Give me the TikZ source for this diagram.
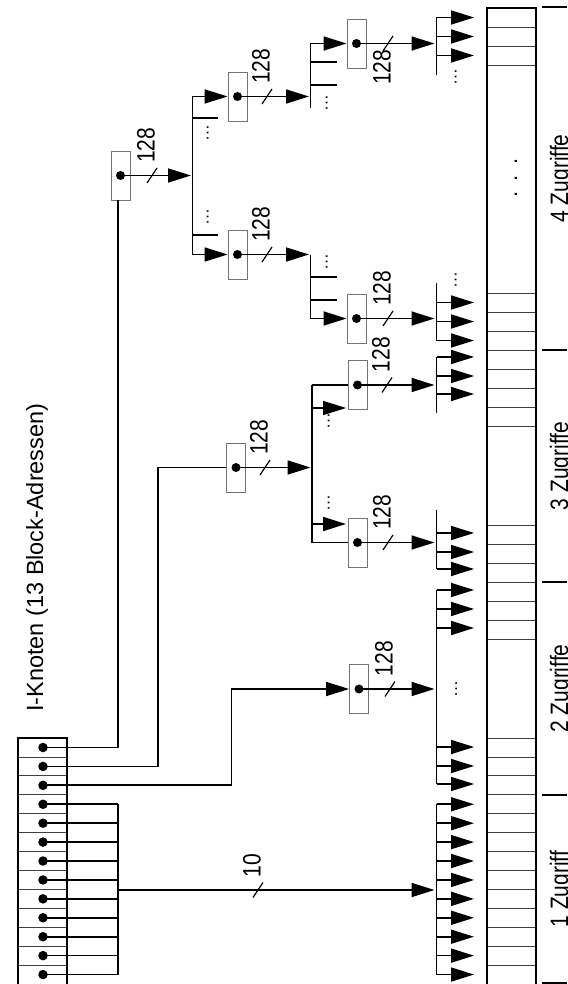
\documentclass[tikz,border=0pt]{standalone}
\usepackage{fontspec}
\setmainfont{Liberation Sans}
\usetikzlibrary{arrows.meta}
\newcommand\tallnum[1]{\scalebox{1}[1.2]{#1}}
\newcommand\mkslash[4]{%
  \draw[sl] ({#1-5},{#2+7.5}) -- ({#1+5},{#2-7.5});
  \node[lbl] (#3) at ({#1+2.5},{#2-12.5}) {\tallnum{#4}};}
\begin{document}
\begin{tikzpicture}[x=1pt,y=-1pt,
  ln/.style={line width=1.7pt},
  arr/.style={line width=1.7pt, -{Triangle[length=23pt,width=14pt]}},
  blk/.style={draw=black!55, line width=0.9pt, minimum width=19pt, minimum height=49pt, inner sep=0pt},
  dotc/.style={fill=black, circle, inner sep=0pt, minimum size=9.5pt},
  lbl/.style={rotate=90, anchor=base west, inner sep=0pt, font=\fontsize{21}{21}\selectfont},
  zlbl/.style={rotate=90, anchor=base, inner sep=0pt, font=\fontsize{21}{21}\selectfont},
  ell/.style={rotate=90, anchor=base, inner sep=0pt, font=\fontsize{17}{17}\selectfont},
  sl/.style={line width=1.2pt},
  gridl/.style={line width=0.8pt, draw=black!75},
  frame/.style={line width=1.2pt},
]
\useasboundingbox (0,0) rectangle (567,984);
\clip (0,0) rectangle (567,984);

% ---------- I-node ----------
\node[lbl, font=\fontsize{23.5}{23.5}\selectfont] (title) at (43,712) {I-Knoten (13 Block-Adressen)};
\foreach \k in {1,...,12} \draw[gridl] (18,{738+18.92*\k}) -- (67,{738+18.92*\k});
\draw[frame] (18,738) rectangle (67,992);
\foreach \k in {0,...,12} \node[dotc] (i\k) at (43,{747.5+18.92*\k}) {};

% ---------- data blocks ----------
\foreach \yy in {27,46,65,293,312,331,350,369,388,407,426,525,544,563,582,601,620,639}
  \draw[gridl] (487,\yy) -- (536,\yy);
\foreach \k in {0,...,12} \draw[gridl] (487,{738+18.92*\k}) -- (536,{738+18.92*\k});
\draw[frame] (487,8) rectangle (536,992);
\node[rotate=90, anchor=base, inner sep=0pt, font=\fontsize{22}{22}\selectfont] (bigdots) at (517,178) {.\hspace{10pt}.\hspace{10pt}.};

% separators and labels
\foreach \yy in {7,350,582,795,983} \draw[ln] (542,\yy) -- (567,\yy);
\node[zlbl] (z4) at (568,178.5) {\tallnum{4 Zugriffe}};
\node[zlbl] (z3) at (568,466) {\tallnum{3 Zugriffe}};
\node[zlbl] (z2) at (568,688.5) {\tallnum{2 Zugriffe}};
\node[zlbl] (z1) at (568,889) {\tallnum{1 Zugriff}};

% ---------- index blocks ----------
\node[blk] (T)  at (120.5,175.5) {};
\node[blk] (D1) at (237.5,96.5) {};
\node[blk] (D2) at (237.5,254.5) {};
\node[blk] (S1) at (356.5,43.5) {};
\node[blk] (S2) at (356.5,318.5) {};
\node[blk] (D3) at (236,467.5) {};
\node[blk] (S3) at (357.5,385) {};
\node[blk] (S4) at (357.5,542.5) {};
\node[blk] (S5) at (359,689) {};
\foreach \b in {T,D1,D2,S1,S2,D3,S3,S4,S5} \fill (\b.center) circle (4.5pt);

% ---------- direct blocks (10) ----------
\foreach \k in {3,...,12} \draw[ln] (i\k.center) -- (118,{747.5+18.92*\k});
\coordinate (dbt) at (118,804.3);
\coordinate (dbb) at (118,974.5);
\draw[ln] (dbt) -- (dbb);
\coordinate (d10) at (118,890);
\coordinate (l1t) at (436.5,804.3);
\coordinate (l1b) at (436.5,974.5);
\draw[arr] (d10) -- (434.5,890);
\mkslash{258}{890}{n10}{10}
\draw[ln] (l1t) -- (l1b);
\foreach \k in {3,...,12} \draw[arr] (436.5,{747.5+18.92*\k}) -- (474,{747.5+18.92*\k});

% ---------- single indirect ----------
\coordinate (c2) at (231.5,689);
\draw[arr] (i2.center) -| (c2) -- (S5.west);
\draw[arr] (S5.center) -- (434.5,689);
\mkslash{390}{689}{n5}{128}
\draw[ln] (436.5,590) -- (436.5,784);
\foreach \yy in {590,609,628,747,766,784} \draw[arr] (436.5,\yy) -- (474,\yy);
\node[ell] (e2) at (457,689) {…};

% ---------- double indirect ----------
\coordinate (c1) at (158,467.5);
\draw[ln] (i1.center) -| (c1) -- (D3.west);
\draw[arr] (D3.center) -- (310.5,467.5);
\mkslash{265}{467.5}{n3}{128}
\coordinate (b3t) at (312,385);
\coordinate (b3b) at (312,542.5);
\draw[ln] (b3t) -- (b3b);
\draw[ln] (b3t) -- (S3.west);
\draw[ln] (b3b) -- (S4.west);
\draw[arr] (312,408) -- (346,408);
\draw[arr] (312,524) -- (346,524);
\node[ell] (e3a) at (329.5,421) {…};
\node[ell] (e3b) at (329.5,503) {…};
% S3 leaves
\draw[arr] (S3.center) -- (434.5,385);
\mkslash{387}{385}{n6}{128}
\draw[ln] (436.5,357) -- (436.5,413);
\foreach \yy in {357,376,394} \draw[arr] (436.5,\yy) -- (474,\yy);
% S4 leaves
\draw[arr] (S4.center) -- (434.5,542.5);
\mkslash{388}{542.5}{n7}{128}
\draw[ln] (436.5,510) -- (436.5,569);
\foreach \yy in {533,552,569} \draw[arr] (436.5,\yy) -- (474,\yy);

% ---------- triple indirect ----------
\draw[ln] (i0.center) -| ([xshift=-2.5pt]T.south);
\draw[arr] (T.center) -- (191,175.5);
\mkslash{152}{175.5}{n1}{128}
\coordinate (b2t) at (192.5,96.5);
\coordinate (b2b) at (192.5,254.5);
\draw[ln] (b2t) -- (b2b);
\draw[arr] (b2t) -- (D1.west);
\draw[arr] (b2b) -- (D2.west);
\draw[ln] (192.5,118) -- (218,118);
\draw[ln] (192.5,235) -- (218,235);
\node[ell] (e1a) at (208.5,133) {…};
\node[ell] (e1b) at (208.5,217) {…};
% D1
\draw[arr] (D1.center) -- (309,96.5);
\mkslash{267}{96.5}{n2}{128}
\coordinate (b4t) at (310.5,43.5);
\draw[ln] (b4t) -- (310.5,108);
\draw[arr] (b4t) -- (S1.west);
\draw[ln] (310.5,62) -- (337,62);
\draw[ln] (310.5,85) -- (337,85);
\node[ell] (e4a) at (327.5,103) {…};
% D2
\draw[arr] (D2.center) -- (309,254.5);
\mkslash{267}{254.5}{n4}{128}
\coordinate (b5b) at (310.5,318.5);
\draw[ln] (310.5,254.5) -- (b5b);
\draw[arr] (b5b) -- (S2.west);
\draw[ln] (310.5,277) -- (337,277);
\draw[ln] (310.5,300) -- (337,300);
\node[ell] (e5a) at (327.5,262) {…};
% S1 leaves (label below the line)
\draw[arr] (S1.center) -- (434.5,43.5);
\draw[sl] (383,51) -- (393,36);
\node[lbl] (n8) at (390.5,85) {\tallnum{128}};
\draw[ln] (436.5,17.5) -- (436.5,75);
\foreach \yy in {17.5,36.5,55.5} \draw[arr] (436.5,\yy) -- (474,\yy);
\node[ell] (e6a) at (456.5,77) {…};
% S2 leaves
\draw[arr] (S2.center) -- (434.5,318.5);
\mkslash{388}{318.5}{n9}{128}
\draw[ln] (436.5,283) -- (436.5,340.5);
\foreach \yy in {302.5,321.5,340.5} \draw[arr] (436.5,\yy) -- (474,\yy);
\node[ell] (e7a) at (456.5,280) {…};
\end{tikzpicture}
\end{document}
